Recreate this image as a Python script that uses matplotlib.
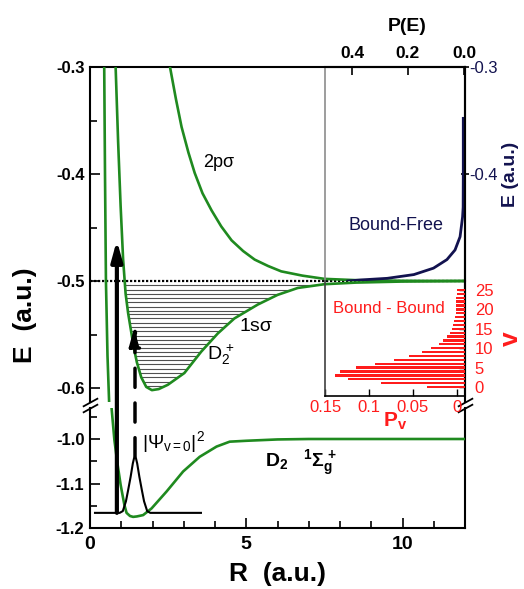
import matplotlib
matplotlib.use('Agg')
import matplotlib.pyplot as plt
import numpy as np
from matplotlib.patches import Polygon
from matplotlib.ticker import MultipleLocator, FormatStrFormatter, FuncFormatter

plt.rcParams['font.family'] = ['Liberation Sans', 'DejaVu Sans']
plt.rcParams['mathtext.fontset'] = 'custom'
plt.rcParams['mathtext.rm'] = 'Liberation Sans'
plt.rcParams['mathtext.it'] = 'Liberation Sans:italic'
plt.rcParams['mathtext.bf'] = 'Liberation Sans:bold'
plt.rcParams['axes.unicode_minus'] = False

# potential curves: R (a.u.), E (a.u.)
x_state_R = [0.455, 0.48, 0.51, 0.56, 0.62, 0.69, 0.78, 0.87, 0.98, 1.10, 1.17, 1.28,
             1.38, 1.50, 1.70, 1.97, 2.45, 2.98, 3.51, 4.05, 4.47, 5.0, 6.0, 7.0, 12.0]
x_state_E = [-0.30, -0.40, -0.50, -0.57, -0.62, -0.93, -1.002, -1.051, -1.103, -1.148, -1.166, -1.173,
             -1.175, -1.174, -1.171, -1.156, -1.118, -1.073, -1.040, -1.017, -1.006, -1.004, -1.001, -1.0, -1.0]

sig_R = [0.82, 0.90, 0.98, 1.06, 1.14, 1.22, 1.31, 1.40, 1.50, 1.64, 1.80, 1.98, 2.20, 2.49,
         3.02, 3.56, 4.09, 4.62, 5.37, 6.00, 6.65, 7.5, 8.5, 10.0, 12.0]
sig_E = [-0.30, -0.37, -0.43, -0.48, -0.512, -0.530, -0.546, -0.562, -0.576, -0.590, -0.599, -0.602,
         -0.601, -0.597, -0.586, -0.566, -0.549, -0.535, -0.522, -0.513, -0.5065, -0.503, -0.5015,
         -0.5005, -0.5]

pi_R = [2.56, 2.75, 2.93, 3.15, 3.35, 3.60, 3.89, 4.20, 4.53, 4.90, 5.27, 5.70, 6.12, 6.8, 7.5,
        8.5, 10.0, 12.0]
pi_E = [-0.30, -0.330, -0.356, -0.380, -0.399, -0.418, -0.434, -0.449, -0.462, -0.472, -0.480,
        -0.486, -0.491, -0.495, -0.498, -0.4992, -0.4998, -0.5]

# vibrational levels of D2+ (1s sigma)
levels_E = [-0.504, -0.508, -0.512, -0.516, -0.520, -0.524, -0.528, -0.531, -0.535, -0.539,
            -0.543, -0.547, -0.551, -0.555, -0.559, -0.563, -0.566, -0.570, -0.574, -0.578,
            -0.582, -0.586, -0.590, -0.594, -0.598]

# |psi_v=0|^2 drawn on the ground state
psi_R = [0.16, 0.95, 1.05, 1.15, 1.22, 1.30, 1.37, 1.41, 1.44, 1.47, 1.51, 1.58, 1.66, 1.73,
         1.83, 1.93, 3.55]
psi_E = [-1.166, -1.166, -1.162, -1.140, -1.115, -1.085, -1.055, -1.043, -1.040, -1.043, -1.055,
         -1.085, -1.115, -1.140, -1.162, -1.166, -1.166]

# transitions
solid_R, solid_from, solid_to = 0.86, -1.166, -0.462
dash_R, dash_from, dash_to = 1.44, -1.040, -0.541

# bound-free distribution P(E)
bf_P = [0.415, 0.368, 0.274, 0.179, 0.109, 0.061, 0.032, 0.014, 0.005, 0.003, 0.0025, 0.0025]
bf_E = [-0.500, -0.499, -0.4975, -0.494, -0.488, -0.480, -0.471, -0.4586, -0.440, -0.431, -0.40, -0.348]

# bound-bound distribution P_v
v_levels = list(range(26))
Pv = [0.034, 0.086, 0.124, 0.139, 0.133, 0.115, 0.093, 0.072, 0.054, 0.040, 0.030, 0.021, 0.016,
      0.011, 0.008, 0.006, 0.004, 0.003, 0.002, 0.0015, 0.001, 0.001, 0.0008, 0.0006, 0.0005, 0.0003]

green = '#1f8a1f'
navy = '#12124f'
red = '#ff1c1c'

fig = plt.figure(figsize=(5.24, 5.89), dpi=100)
W, H = 524.0, 589.0

ax_lo = fig.add_axes([90 / W, 1 - 528 / H, 375 / W, 120 / H], facecolor='none')
ax_up = fig.add_axes([90 / W, 1 - 402 / H, 375 / W, 335 / H], facecolor='none')

# --- upper part of the potential diagram
ax_up.plot(x_state_R, x_state_E, color=green, lw=1.9, zorder=3)
ax_up.plot(sig_R, sig_E, color=green, lw=1.9, zorder=3)
ax_up.plot(pi_R, pi_E, color=green, lw=1.9, zorder=3)
well = Polygon(np.column_stack([sig_R, sig_E]), closed=True, transform=ax_up.transData)
lv = ax_up.hlines(levels_E, 0, 12, colors='#505050', lw=0.8, zorder=2)
lv.set_clip_path(well)
ax_up.axhline(-0.5, color='k', ls=(0, (1, 0.8)), lw=1.6, zorder=2)

ax_up.set_xlim(0, 12)
ax_up.set_ylim(-0.3 - 335 / 1070, -0.3)
ax_up.spines['bottom'].set_visible(False)
ax_up.set_xticks([])
ax_up.yaxis.set_major_locator(MultipleLocator(0.1))
ax_up.yaxis.set_minor_locator(MultipleLocator(0.05))
ax_up.yaxis.set_major_formatter(FormatStrFormatter('%.1f'))
ax_up.tick_params(axis='y', which='major', direction='in', length=7, width=1.2,
                  labelsize=12, pad=4)
ax_up.tick_params(axis='y', which='minor', direction='in', length=5, width=1.2)
for lab in ax_up.get_yticklabels():
    lab.set_fontweight('bold')
for s in ax_up.spines.values():
    s.set_linewidth(1.5)

ax_up.text(3.61, -0.3935, '2p\u03c3', fontsize=13, ha='left', va='baseline')
ax_up.text(4.79, -0.5467, '1s\u03c3', fontsize=14, ha='left', va='baseline')
ax_up.text(3.74, -0.5738, r'$\mathregular{D_2^{\,+}}$', fontsize=14, ha='left', va='baseline')

# --- lower part
ax_lo.plot(x_state_R, x_state_E, color=green, lw=1.9, zorder=3)
ax_lo.plot(psi_R, psi_E, color='k', lw=1.5, zorder=4)
ax_lo.set_xlim(0, 12)
ax_lo.set_ylim(-1.2, -1.2 + 120 / 445)
ax_lo.spines['top'].set_visible(False)
ax_lo.xaxis.set_major_locator(MultipleLocator(5))
ax_lo.xaxis.set_minor_locator(MultipleLocator(1))
ax_lo.yaxis.set_major_locator(MultipleLocator(0.1))
ax_lo.yaxis.set_minor_locator(MultipleLocator(0.05))
ax_lo.yaxis.set_major_formatter(FormatStrFormatter('%.1f'))
ax_lo.tick_params(which='major', direction='in', length=7, width=1.2, labelsize=12, pad=4)
ax_lo.tick_params(which='minor', direction='in', length=5, width=1.2)
ax_lo.tick_params(axis='x', labelsize=14, pad=6)
for lab in ax_lo.get_yticklabels() + ax_lo.get_xticklabels():
    lab.set_fontweight('bold')
for s in ax_lo.spines.values():
    s.set_linewidth(1.5)
ax_lo.set_xlabel('R  (a.u.)', fontsize=19, fontweight='bold', labelpad=6)

ax_lo.text(1.66, -1.007, r'$|\Psi_{\mathregular{v=0}}|^2$', fontsize=14, ha='left', va='center')
ax_lo.text(5.59, -1.063, r'$\mathbf{D_2}$   $\mathbf{^1\Sigma_g^{\,+}}$', fontsize=14,
           ha='left', va='baseline')

fig.text(25 / W, 1 - 315 / H, 'E  (a.u.)', rotation=90, fontsize=19, fontweight='bold',
         ha='center', va='center')

# axis break marks
brk = dict(marker=[(-1, -0.55), (1, 0.55)], markersize=11, linestyle='none', color='k',
           mec='k', mew=1.3, clip_on=False)
ax_up.plot([0, 1], [0, 0], transform=ax_up.transAxes, **brk)
ax_lo.plot([0, 1], [1, 1], transform=ax_lo.transAxes, **brk)

# transitions
head = '-|>,head_length=0.8,head_width=0.22'
ax_up.annotate('', xy=(solid_R, solid_to), xycoords='data',
               xytext=(solid_R, solid_from), textcoords=ax_lo.transData,
               arrowprops=dict(arrowstyle=head, color='k', lw=3, shrinkA=0, shrinkB=0,
                               mutation_scale=15),
               annotation_clip=False, zorder=6)
ax_up.annotate('', xy=(dash_R, dash_to), xycoords='data',
               xytext=(dash_R, dash_from), textcoords=ax_lo.transData,
               arrowprops=dict(arrowstyle=head, color='k', lw=2.5, ls=(0, (5.5, 4.5)),
                               shrinkA=0, shrinkB=0, mutation_scale=15),
               annotation_clip=False, zorder=6)

# --- bound-free inset
ax_bf = fig.add_axes([325 / W, 1 - 281 / H, 140 / W, 214 / H], facecolor='none')
ax_bf.plot(bf_P, bf_E, color=navy, lw=2)
ax_bf.set_xlim(0.4964, -0.0036)
ax_bf.set_ylim(-0.5, -0.3)
ax_bf.xaxis.tick_top()
ax_bf.xaxis.set_label_position('top')
ax_bf.yaxis.tick_right()
ax_bf.yaxis.set_label_position('right')
ax_bf.set_xticks([0.4, 0.2, 0.0])
ax_bf.set_yticks([-0.3, -0.4])
ax_bf.xaxis.set_major_formatter(FormatStrFormatter('%.1f'))
ax_bf.yaxis.set_major_formatter(FormatStrFormatter('%.1f'))
ax_bf.spines['bottom'].set_visible(False)
ax_bf.spines['left'].set_color('#8c8c8c')
ax_bf.spines['left'].set_linewidth(1.2)
ax_bf.spines['top'].set_linewidth(1.5)
ax_bf.spines['right'].set_linewidth(1.5)
ax_bf.tick_params(axis='x', direction='in', length=6, width=1.2, labelsize=12.5, pad=4)
ax_bf.tick_params(axis='y', direction='inout', length=6, width=1.2, labelsize=12,
                  labelcolor=navy, pad=0)
for lab in ax_bf.get_xticklabels():
    lab.set_fontweight('bold')
ax_bf.set_xlabel('P(E)', fontsize=14, fontweight='bold')
ax_bf.xaxis.set_label_coords(0.586, 1.17)
ax_bf.set_ylabel('E (a.u.)', fontsize=14, fontweight='bold', color=navy, labelpad=3)
ax_bf.text(0.414, -0.4523, 'Bound-Free', color=navy, fontsize=13, ha='left', va='baseline')

# --- bound-bound inset
ax_bb = fig.add_axes([325 / W, 1 - 396 / H, 140 / W, 115 / H], facecolor='none')
bb_edge = -0.0091
ax_bb.barh(v_levels, np.array(Pv) - bb_edge, left=bb_edge, height=0.6, color=red, zorder=3)
ax_bb.set_xlim(0.15, bb_edge)
ax_bb.set_ylim(-2.32, 27.32)
ax_bb.yaxis.tick_right()
ax_bb.yaxis.set_label_position('right')
ax_bb.set_xticks([0.15, 0.1, 0.05, 0])
ax_bb.set_yticks([0, 5, 10, 15, 20, 25])
ax_bb.xaxis.set_major_formatter(FuncFormatter(lambda x, p: '%g' % round(x, 3)))
ax_bb.spines['top'].set_visible(False)
ax_bb.spines['left'].set_color('#404040')
ax_bb.spines['left'].set_linewidth(1.2)
ax_bb.spines['bottom'].set_linewidth(1.2)
ax_bb.spines['right'].set_linewidth(1.5)
ax_bb.tick_params(axis='x', direction='in', length=5, width=1, labelsize=12,
                  labelcolor=red, pad=3)
ax_bb.tick_params(axis='y', direction='in', length=4, width=1, labelsize=12,
                  labelcolor=red, pad=7)
ax_bb.set_xlabel(r'$\mathbf{P_v}$', fontsize=15, color=red, labelpad=-3)
ax_bb.set_ylabel('v', fontsize=19, fontweight='bold', color=red, rotation=90, labelpad=4)
ax_bb.text(0.141, 19.07, 'Bound - Bound', color=red, fontsize=12, ha='left', va='baseline')

fig.savefig('out.png', dpi=100)
